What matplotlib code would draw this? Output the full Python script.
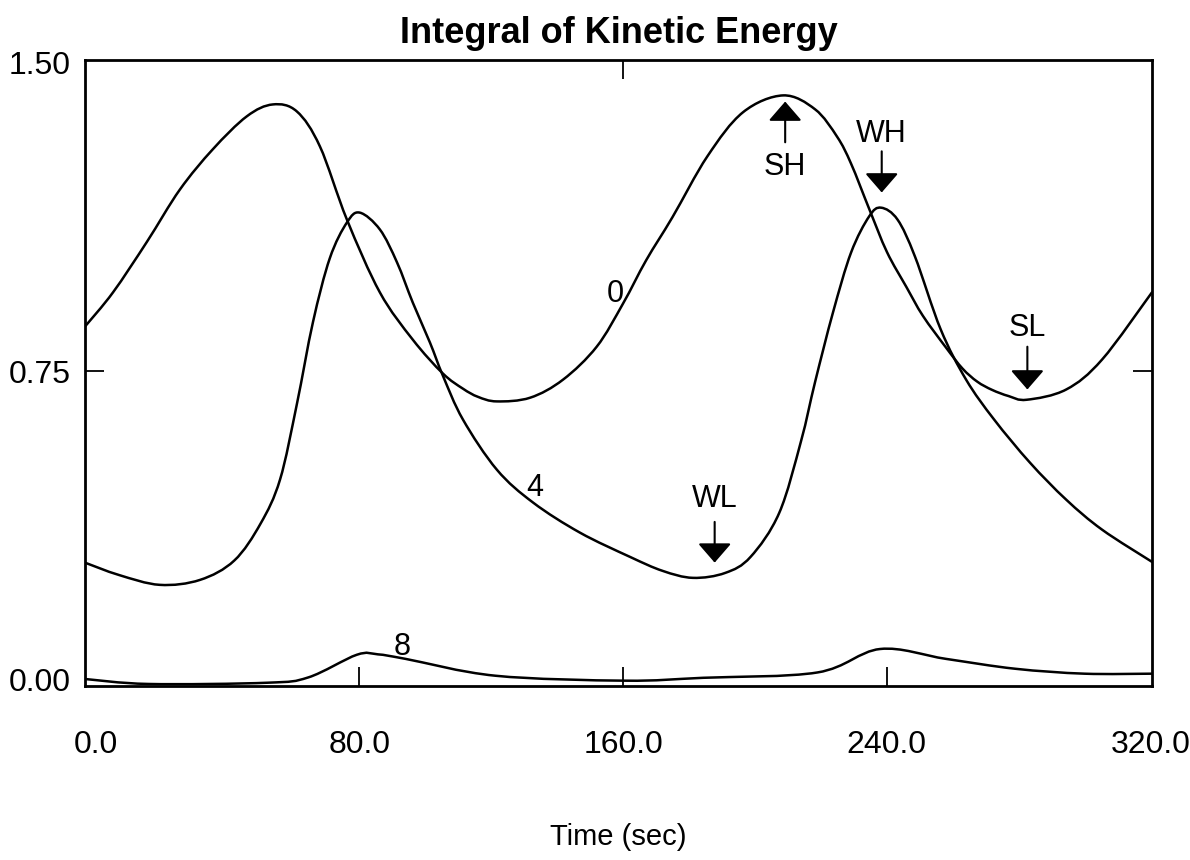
import matplotlib
matplotlib.use('Agg')
import matplotlib.pyplot as plt
from matplotlib.path import Path
from matplotlib.patches import PathPatch

# Time axis (sec) and kinetic energy integrals
t_curve0 = [-3.3, 5.2, 15.5, 25.5, 35.5, 45.8, 53.7, 61.0, 68.0, 76.2, 86.2, 96.2,
            105.3, 111.4, 116.0, 121.7, 131.8, 141.8, 152.0, 160.0, 167.0, 175.0, 185.6,
            196.4, 208.6, 218.3, 225.0, 229.2, 234.7, 240.1, 246.0, 251.0, 258.0, 263.0,
            267.5, 272.0, 277.0, 282.5, 294.5, 305.4, 320.5]
ke_curve0 = [0.859, 0.942, 1.065, 1.192, 1.290, 1.370, 1.399, 1.382, 1.297, 1.119, 0.942, 0.827,
             0.745, 0.708, 0.688, 0.677, 0.686, 0.730, 0.810, 0.915, 1.020, 1.125, 1.273,
             1.380, 1.421, 1.387, 1.320, 1.255, 1.145, 1.040, 0.955, 0.885, 0.808, 0.757,
             0.725, 0.705, 0.690, 0.681, 0.706, 0.779, 0.942]

t_curve4 = [-3.3, 7.0, 19.4, 31.6, 42.0, 50.0, 55.9, 61.0, 65.9, 71.0, 76.2, 80.1, 86.2,
            91.4, 96.2, 101.4, 105.3, 111.4, 121.7, 132.7, 146.9, 162.1, 172.0, 181.2,
            191.0, 198.7, 207.4, 214.0, 218.3, 223.7, 229.2, 234.7, 238.3, 243.3,
            248.6, 256.4, 264.1, 272.6, 283.5, 294.5, 305.4, 320.5]
ke_curve4 = [0.285, 0.255, 0.231, 0.243, 0.290, 0.380, 0.487, 0.670, 0.870, 1.025, 1.112, 1.136, 1.095,
             1.015, 0.917, 0.820, 0.740, 0.633, 0.511, 0.431, 0.358, 0.299, 0.265, 0.248,
             0.260, 0.299, 0.406, 0.580, 0.725, 0.893, 1.039, 1.127, 1.148, 1.119,
             1.029, 0.852, 0.730, 0.633, 0.528, 0.438, 0.365, 0.287]

t_curve8 = [-3.2, 16.0, 52.0, 64.5, 79.2, 85.6, 94.0, 121.3, 160.6, 184.3, 219.0,
            238.0, 258.0, 279.0, 300.0, 320.5]
ke_curve8 = [0.002, -0.010, -0.007, 0.006, 0.061, 0.062, 0.051, 0.010, -0.002, 0.005, 0.018,
             0.075, 0.051, 0.027, 0.015, 0.015]

# curve labels: (text, t, value)
curve_labels = [('0', 157.6, 0.937), ('4', 133.3, 0.467), ('8', 93.0, 0.080)]

# markers: (text, t, text_y, tail_y, tip_y)
markers = [('SH', 209.2, 1.248, 1.307, 1.406),
           ('WH', 238.5, 1.326, 1.285, 1.185),
           ('SL', 282.7, 0.856, 0.810, 0.706),
           ('WL', 187.8, 0.440, 0.384, 0.285)]

x_ticks = [0, 80, 160, 240, 320]
x_ticklabels = ['0.0', '80.0', '160.0', '240.0', '320.0']
y_ticks = [0.0, 0.75, 1.5]
y_ticklabels = ['0.00', '0.75', '1.50']


def smooth_path(xs, ys):
    # Catmull-Rom through the read points, drawn as cubic Bezier segments
    pts = list(zip(xs, ys))
    n = len(pts)
    verts = [pts[0]]
    codes = [Path.MOVETO]
    for i in range(n - 1):
        p0 = pts[i - 1] if i > 0 else pts[i]
        p1 = pts[i]
        p2 = pts[i + 1]
        p3 = pts[i + 2] if i + 2 < n else pts[i + 1]
        c1 = (p1[0] + (p2[0] - p0[0]) / 6, p1[1] + (p2[1] - p0[1]) / 6)
        c2 = (p2[0] - (p3[0] - p1[0]) / 6, p2[1] - (p3[1] - p1[1]) / 6)
        verts += [c1, c2, p2]
        codes += [Path.CURVE4] * 3
    return Path(verts, codes)


plt.rcParams['font.family'] = ['Liberation Sans', 'DejaVu Sans']

fig = plt.figure(figsize=(11.9, 8.6), dpi=100)
ax = fig.add_axes([0.0714, 0.2023, 0.8966, 0.7279])

for t, ke in [(t_curve0, ke_curve0), (t_curve4, ke_curve4), (t_curve8, ke_curve8)]:
    ax.add_patch(PathPatch(smooth_path(t, ke), fill=False, lw=1.8,
                           edgecolor='black', joinstyle='round', capstyle='round'))

for txt, x, y in curve_labels:
    ax.text(x, y, txt, fontsize=22, ha='center', va='center')

for txt, x, ty, tail, tip in markers:
    ax.text(x, ty, txt, fontsize=22, ha='center', va='center')
    ax.annotate('', xy=(x, tip), xytext=(x, tail),
                arrowprops=dict(arrowstyle='-|>,head_width=0.52,head_length=0.6',
                                mutation_scale=20, lw=1.5, color='black',
                                shrinkA=0, shrinkB=0))

ax.set_xlim(-3.3, 320.5)
ax.set_ylim(-0.015, 1.507)

ax.set_xticks(x_ticks)
ax.set_xticklabels(x_ticklabels)
ax.set_yticks(y_ticks)
ax.set_yticklabels(y_ticklabels)
ax.tick_params(axis='x', direction='in', length=14, width=1.3, pad=32, labelsize=23,
               top=True)
ax.tick_params(axis='y', direction='in', length=14, width=1.3, pad=10, labelsize=23,
               right=True)

# only the inner ticks show marks; top edge has a single mark at 160
for i, tk in enumerate(ax.xaxis.get_major_ticks()):
    tk.tick1line.set_visible(0 < i < len(x_ticks) - 1)
    tk.tick2line.set_visible(x_ticks[i] == 160)
for i, tk in enumerate(ax.yaxis.get_major_ticks()):
    tk.tick1line.set_visible(y_ticks[i] == 0.75)
    tk.tick2line.set_visible(y_ticks[i] == 0.75)

for s in ax.spines.values():
    s.set_linewidth(2.0)

ax.set_xlabel('Time (sec)', fontsize=21, labelpad=45)
ax.set_title('Integral of Kinetic Energy', fontsize=26, fontweight='bold', pad=12)

fig.savefig('out.png', dpi=100)
